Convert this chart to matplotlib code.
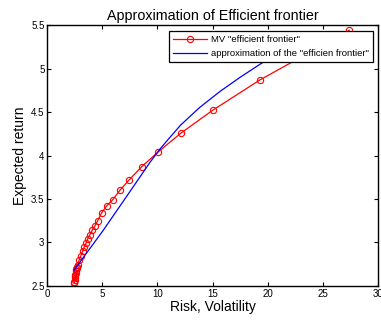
import matplotlib
matplotlib.use("Agg")
import matplotlib.pyplot as plt

# MV efficient frontier
mv_risk = [2.45, 2.46, 2.48, 2.50, 2.52, 2.54, 2.57, 2.60, 2.63, 2.66,
           2.70, 2.76, 2.90, 3.06, 3.21, 3.36, 3.51, 3.66, 3.87, 4.08,
           4.32, 4.57, 4.93, 5.38, 5.93, 6.59, 7.43, 8.56, 10.05, 12.1,
           15.0, 19.3, 27.4]
mv_ret = [2.535, 2.55, 2.57, 2.59, 2.61, 2.63, 2.65, 2.67, 2.69, 2.71,
          2.72, 2.74, 2.80, 2.85, 2.90, 2.95, 2.99, 3.04, 3.09, 3.14,
          3.19, 3.25, 3.34, 3.42, 3.49, 3.60, 3.72, 3.87, 4.04, 4.255,
          4.52, 4.87, 5.44]

# approximation curve
ap_risk = [2.42, 5.08, 7.2, 9.31, 10.2, 11.0, 12.1, 13.8,
           15.7, 17.5, 19.3, 21.0, 23.0]
ap_ret = [2.68, 3.14, 3.53, 3.92, 4.07, 4.19, 4.35, 4.55,
          4.74, 4.90, 5.05, 5.18, 5.32]

plt.rcParams['font.family'] = ['Liberation Sans', 'DejaVu Sans']

fig = plt.figure(figsize=(3.81, 3.22), dpi=100)
ax = fig.add_axes([0.124, 0.112, 0.868, 0.81])

ax.plot(mv_risk, mv_ret, '-o', color='red', lw=0.9, markersize=4.5,
        fillstyle='none', mew=0.8, label='MV "efficient frontier"')
ax.plot(ap_risk, ap_ret, '-', color='blue', lw=0.9,
        label='approximation of the "efficien frontier"')

ax.set_xlim(0, 30)
ax.set_ylim(2.5, 5.5)
ax.set_xticks([0, 5, 10, 15, 20, 25, 30])
ax.set_yticks([2.5, 3, 3.5, 4, 4.5, 5, 5.5])
ax.set_yticklabels(['2.5', '3', '3.5', '4', '4.5', '5', '5.5'])
ax.tick_params(direction='in', top=True, right=True, labelsize=7, length=3,
               width=0.8, pad=2)
for s in ax.spines.values():
    s.set_linewidth(1.0)

ax.set_title('Approximation of Efficient frontier', fontsize=10.3, pad=4)
ax.set_xlabel('Risk, Volatility', fontsize=10, labelpad=1)
ax.set_ylabel('Expected return', fontsize=10, labelpad=3)

leg = ax.legend(loc='upper right', bbox_to_anchor=(0.985, 0.977), fontsize=6.8,
                frameon=True, fancybox=False, framealpha=1, edgecolor='black',
                borderpad=0.45, handlelength=3.6, labelspacing=0.5,
                handletextpad=0.35, borderaxespad=0)
leg.get_frame().set_linewidth(0.9)

fig.savefig('out.png', dpi=100)
